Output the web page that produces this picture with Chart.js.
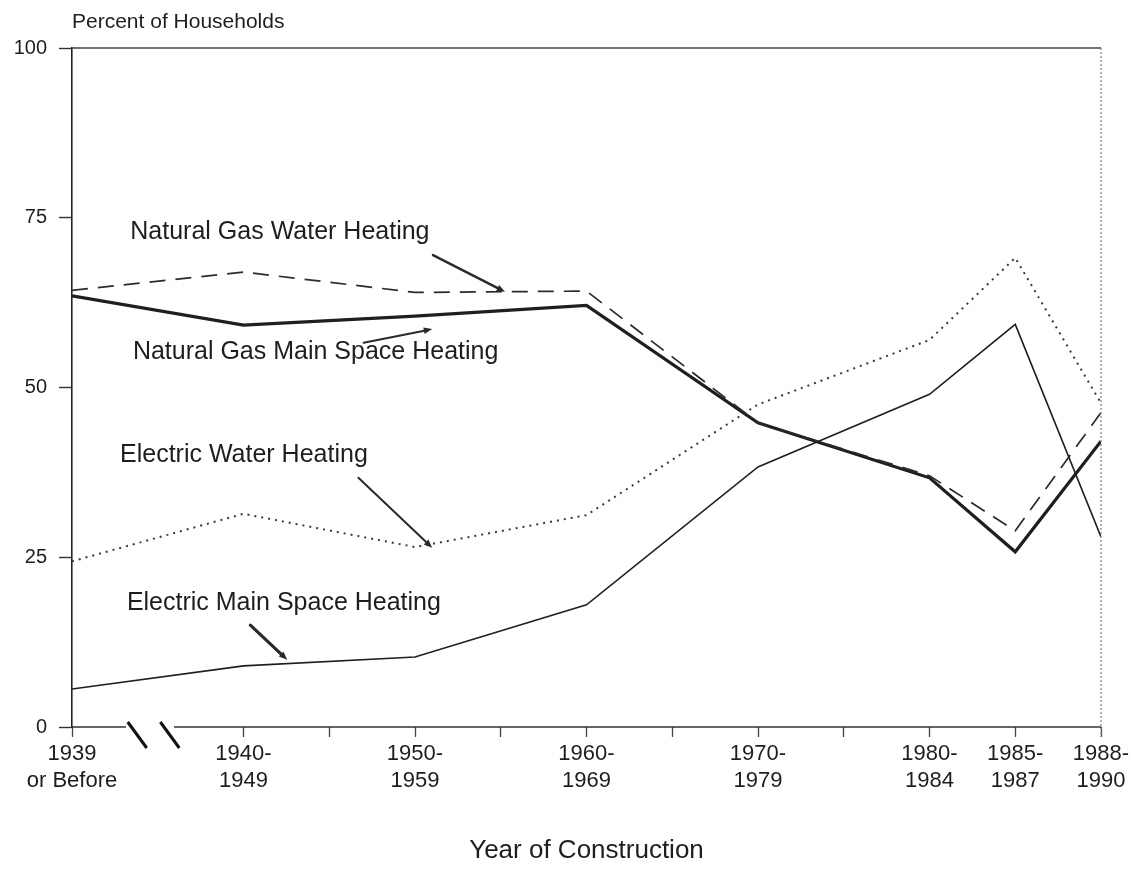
<!DOCTYPE html>
<html>
<head>
<meta charset="utf-8">
<title>Percent of Households by Year of Construction</title>
<script src="https://cdn.jsdelivr.net/npm/chart.js@4.4.1/dist/chart.umd.min.js"></script>
<style>
	html, body { margin: 0; padding: 0; background: #fff; }
	#wrap { width: 1134px; height: 880px; }
</style>
</head>
<body>
<div id="wrap"><canvas id="chart" width="1134" height="880"></canvas></div>
<script>
// categories and where they sit on the (uneven) construction-year axis
const categories = [
	['1939', 'or Before'],
	['1940-', '1949'],
	['1950-', '1959'],
	['1960-', '1969'],
	['1970-', '1979'],
	['1980-', '1984'],
	['1985-', '1987'],
	['1988-', '1990'],
];
const categoryPositions = [0, 2, 4, 6, 8, 10, 11, 12];

// percent of households
const naturalGasWater = [64.3, 67, 64, 64.2, 44.8, 37, 28.9, 46.3];
const naturalGasMain = [63.5, 59.2, 60.5, 62.1, 44.8, 36.7, 25.8, 42.1];
const electricWater = [24.4, 31.4, 26.5, 31.2, 47.5, 57, 69.1, 47.7];
const electricMain = [5.6, 9.0, 10.3, 18.0, 38.3, 49, 59.3, 28];

const yTicks = [0, 25, 50, 75, 100];

const FONT = '"Liberation Sans", Arial, Helvetica, sans-serif';
const INK = '#1e1e1e';

// callout text + arrows, anchored in data units
const callouts = [
	{ text: 'Natural Gas Water Heating', at: [0.68, 72.9], arrow: [[4.21, 69.5], [5.05, 64.1]], width: 2.4 },
	{ text: 'Natural Gas Main Space Heating', at: [0.71, 55.2], arrow: [[3.4, 56.6], [4.2, 58.6]], width: 2 },
	{ text: 'Electric Water Heating', at: [0.56, 40.1], arrow: [[3.34, 36.7], [4.2, 26.4]], width: 2 },
	{ text: 'Electric Main Space Heating', at: [0.64, 18.3], arrow: [[2.08, 15.0], [2.51, 9.9]], width: 3.2 },
];

const toPoints = (values) => values.map((v, i) => ({ x: categoryPositions[i], y: v }));

const labelFor = (value) => {
	const idx = categoryPositions.indexOf(value);
	return idx === -1 ? '' : categories[idx];
};

function drawArrow(ctx, x1, y1, x2, y2, width) {
	const angle = Math.atan2(y2 - y1, x2 - x1);
	const head = 9;
	ctx.save();
	ctx.strokeStyle = '#2a2a2a';
	ctx.fillStyle = '#2a2a2a';
	ctx.lineWidth = width;
	ctx.lineCap = 'round';
	ctx.beginPath();
	ctx.moveTo(x1, y1);
	ctx.lineTo(x2 - Math.cos(angle) * head * 0.6, y2 - Math.sin(angle) * head * 0.6);
	ctx.stroke();
	ctx.beginPath();
	ctx.moveTo(x2, y2);
	ctx.lineTo(x2 - head * Math.cos(angle - 0.38), y2 - head * Math.sin(angle - 0.38));
	ctx.lineTo(x2 - head * Math.cos(angle + 0.38), y2 - head * Math.sin(angle + 0.38));
	ctx.closePath();
	ctx.fill();
	ctx.restore();
}

const framePlugin = {
	id: 'frame',
	afterDraw(chart) {
		const { ctx, chartArea } = chart;
		const x = chart.scales.x;
		const y = chart.scales.y;
		const y0 = y.getPixelForValue(0);
		const top = y.getPixelForValue(100);

		ctx.save();
		// top rule
		ctx.strokeStyle = '#444';
		ctx.lineWidth = 1.3;
		ctx.beginPath();
		ctx.moveTo(chartArea.left, top);
		ctx.lineTo(chartArea.right, top);
		ctx.stroke();

		// right rule, faint dotted
		ctx.strokeStyle = '#8a8a8a';
		ctx.lineWidth = 1.3;
		ctx.setLineDash([2, 2]);
		ctx.beginPath();
		ctx.moveTo(chartArea.right, top);
		ctx.lineTo(chartArea.right, y0 + 10);
		ctx.stroke();
		ctx.setLineDash([]);

		// bottom axis with a break after 1939
		ctx.strokeStyle = '#333';
		ctx.lineWidth = 1.5;
		ctx.beginPath();
		ctx.moveTo(chartArea.left, y0);
		ctx.lineTo(x.getPixelForValue(0.63), y0);
		ctx.moveTo(x.getPixelForValue(1.19), y0);
		ctx.lineTo(chartArea.right, y0);
		ctx.stroke();

		ctx.strokeStyle = '#111';
		ctx.lineWidth = 3;
		[0.65, 1.03].forEach((v) => {
			const px = x.getPixelForValue(v);
			ctx.beginPath();
			ctx.moveTo(px, y0 - 5);
			ctx.lineTo(px + 19, y0 + 21);
			ctx.stroke();
		});

		// y title
		ctx.fillStyle = INK;
		ctx.font = `21px ${FONT}`;
		ctx.textAlign = 'left';
		ctx.textBaseline = 'middle';
		ctx.fillText('Percent of Households', chartArea.left, 22);

		// callouts
		ctx.font = `25px ${FONT}`;
		callouts.forEach((c) => {
			ctx.fillStyle = INK;
			ctx.fillText(c.text, x.getPixelForValue(c.at[0]), y.getPixelForValue(c.at[1]));
			const [a, b] = c.arrow;
			drawArrow(ctx,
				x.getPixelForValue(a[0]), y.getPixelForValue(a[1]),
				x.getPixelForValue(b[0]), y.getPixelForValue(b[1]), c.width);
		});
		ctx.restore();
	},
};

new Chart(document.getElementById('chart'), {
	type: 'line',
	data: {
		datasets: [
			{
				label: 'Natural Gas Water Heating',
				data: toPoints(naturalGasWater),
				borderColor: '#2b2b2b',
				borderWidth: 1.7,
				borderDash: [16, 10],
			},
			{
				label: 'Natural Gas Main Space Heating',
				data: toPoints(naturalGasMain),
				borderColor: '#1f1f1f',
				borderWidth: 3.2,
			},
			{
				label: 'Electric Water Heating',
				data: toPoints(electricWater),
				borderColor: '#3a3a3a',
				borderWidth: 2,
				borderDash: [2, 5],
			},
			{
				label: 'Electric Main Space Heating',
				data: toPoints(electricMain),
				borderColor: '#1f1f1f',
				borderWidth: 1.6,
			},
		],
	},
	options: {
		responsive: false,
		animation: false,
		events: [],
		layout: { padding: { top: 48, right: 33, left: 0, bottom: 0 } },
		elements: {
			point: { radius: 0 },
			line: { tension: 0, fill: false, borderJoinStyle: 'miter' },
		},
		plugins: {
			legend: { display: false },
			tooltip: { enabled: false },
		},
		scales: {
			x: {
				type: 'linear',
				min: categoryPositions[0],
				max: categoryPositions[categoryPositions.length - 1],
				afterFit: (scale) => { scale.height = 153; },
				afterBuildTicks: (scale) => {
					const ticks = [];
					for (let v = scale.min; v <= scale.max; v += 1) ticks.push({ value: v });
					scale.ticks = ticks;
				},
				border: { display: false },
				grid: {
					drawOnChartArea: false,
					tickLength: 10,
					tickWidth: 1.3,
					tickColor: (ctx) => (ctx.tick && ctx.tick.value === 1 ? 'rgba(0,0,0,0)' : '#444'),
				},
				ticks: {
					autoSkip: false,
					maxRotation: 0,
					padding: 4,
					color: INK,
					font: { family: FONT, size: 22, lineHeight: 1.2 },
					callback: (value) => labelFor(value),
				},
				title: {
					display: true,
					text: 'Year of Construction',
					color: INK,
					font: { family: FONT, size: 26 },
					padding: { top: 0, bottom: 14 },
				},
			},
			y: {
				min: yTicks[0],
				max: yTicks[yTicks.length - 1],
				afterFit: (scale) => { scale.width = 72; },
				afterBuildTicks: (scale) => { scale.ticks = yTicks.map((v) => ({ value: v })); },
				border: { display: true, color: '#222', width: 1.6 },
				grid: {
					drawOnChartArea: false,
					tickLength: 13,
					tickWidth: 1.4,
					tickColor: '#333',
				},
				ticks: {
					padding: 12,
					color: INK,
					font: { family: FONT, size: 20 },
				},
			},
		},
	},
	plugins: [framePlugin],
});
</script>
</body>
</html>
